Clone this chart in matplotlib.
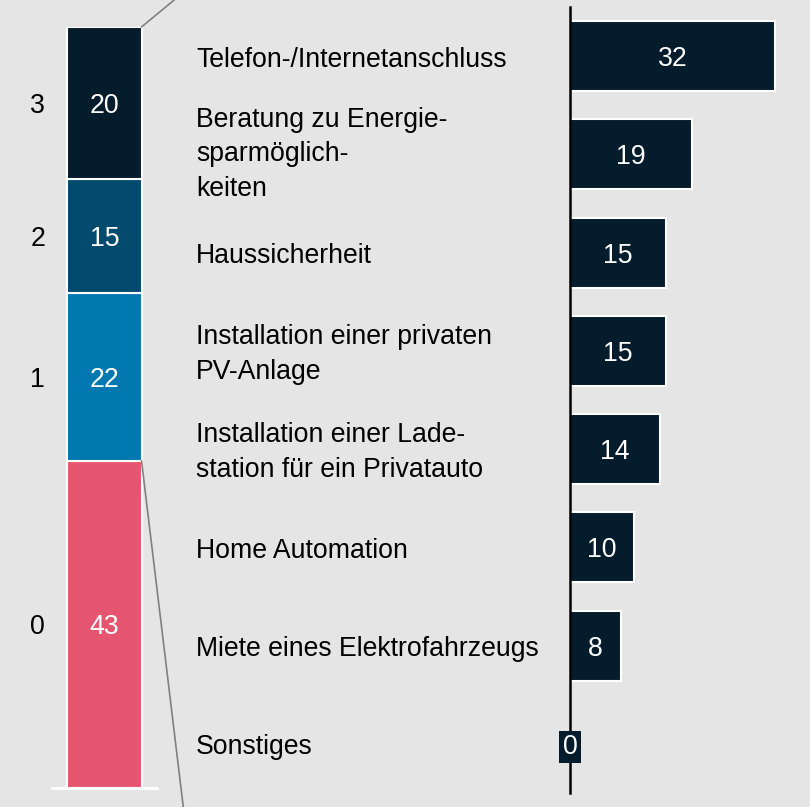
import matplotlib
matplotlib.use("Agg")
import matplotlib.pyplot as plt
from matplotlib.patches import ConnectionPatch
from matplotlib.transforms import blended_transform_factory, ScaledTranslation

plt.rcParams['font.family'] = ['Liberation Sans', 'DejaVu Sans']

# Stacked share bar (left)
stack_labels = ["0", "1", "2", "3"]
stack_values = [43, 22, 15, 20]
stack_colors = ["#e5556f", "#0179b0", "#034b6e", "#051c2d"]

# Detail bars (right)
categories = [
    "Telefon-/Internetanschluss",
    "Beratung zu Energie-\nsparmöglich-\nkeiten",
    "Haussicherheit",
    "Installation einer privaten\nPV-Anlage",
    "Installation einer Lade-\nstation für ein Privatauto",
    "Home Automation",
    "Miete eines Elektrofahrzeugs",
    "Sonstiges",
]
values = [32, 19, 15, 15, 14, 10, 8, 0]

BG = "#e5e5e5"
NAVY = "#051c2d"
FS = 19.2

W, H = 810, 807
fig = plt.figure(figsize=(W / 100, H / 100), dpi=100, facecolor=BG)

# ---- left stacked bar ----
ax1 = fig.add_axes([52 / W, (H - 788) / H, 105 / W, 761 / H])
ax1.set_facecolor(BG)
bottom = 0
centers = []
for v, c in zip(stack_values, stack_colors):
    ax1.bar(0, v, bottom=bottom, width=0.705, color=c, edgecolor="white", linewidth=1.5)
    ax1.text(0, bottom + v / 2, str(v), ha="center", va="center_baseline",
             color="white", fontsize=FS)
    centers.append(bottom + v / 2)
    bottom += v
ax1.set_xlim(-0.5, 0.5)
ax1.set_ylim(0, sum(stack_values))
ax1.set_yticks(centers)
ax1.set_yticklabels(stack_labels, fontsize=FS, va="center_baseline")
ax1.tick_params(axis="y", length=0, pad=5)
ax1.set_xticks([])
for s in ["top", "right", "left"]:
    ax1.spines[s].set_visible(False)
ax1.spines["bottom"].set_color("white")
ax1.spines["bottom"].set_linewidth(2)

# ---- right horizontal bars ----
ax2 = fig.add_axes([570 / W, (H - 793) / H, 240 / W, 786 / H])
ax2.set_facecolor(BG)
ypos = list(range(len(values)))
ax2.barh(ypos, values, height=0.71, color=NAVY, edgecolor="white", linewidth=1.5)
for y, v in zip(ypos, values):
    box = None
    if v == 0:
        box = dict(boxstyle="square,pad=0.12", facecolor=NAVY, edgecolor="none")
    ax2.text(v / 2, y, str(v), ha="center", va="center_baseline", color="white",
             fontsize=FS, bbox=box)
ax2.set_xlim(0, 37.5)
ax2.set_ylim(len(values) - 0.5, -0.5)
ax2.set_xticks([])
ax2.set_yticks([])
for s in ["top", "right", "bottom"]:
    ax2.spines[s].set_visible(False)
ax2.spines["left"].set_color("black")
ax2.spines["left"].set_linewidth(1.8)

# category labels, left aligned between the two charts
trans = blended_transform_factory(fig.transFigure, ax2.transData)
for y, name in zip(ypos, categories):
    lines = name.count("\n") + 1
    nudge = 0.0 if lines >= 3 else -3.5 / 100
    t = trans + ScaledTranslation(0, nudge, fig.dpi_scale_trans)
    fig.text(196 / W, y, name, transform=t, ha="left", va="center",
             fontsize=FS, color="black", linespacing=1.42)

# connector lines from the stacked bar
total = sum(stack_values)
for ya, xyb in [(total, (295 / W, (H + 100) / H)), (stack_values[0], (194.5 / W, -93 / H))]:
    con = ConnectionPatch(xyA=(0.3525, ya), coordsA=ax1.transData,
                          xyB=xyb, coordsB="figure fraction",
                          color="#808080", linewidth=1.2)
    fig.add_artist(con)

fig.savefig("out.png", dpi=100, facecolor=BG)
